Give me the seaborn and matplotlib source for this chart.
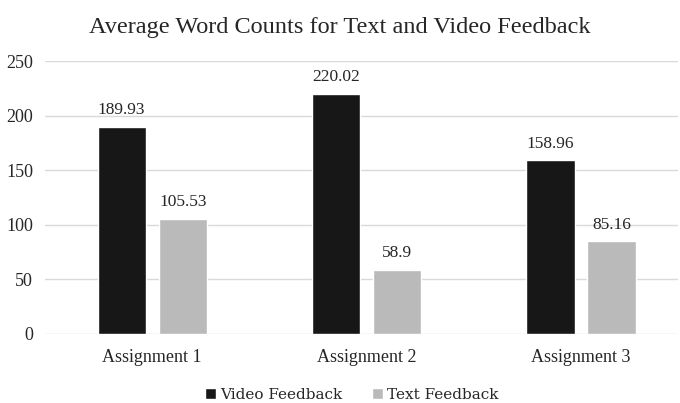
import matplotlib
matplotlib.use("Agg")
import matplotlib.pyplot as plt
import seaborn as sns
import pandas as pd

categories = ["Assignment 1", "Assignment 2", "Assignment 3"]
series_names = ["Video Feedback", "Text Feedback"]
video_values = [189.93, 220.02, 158.96]
text_values = [105.53, 58.9, 85.16]
value_labels_video = ["189.93", "220.02", "158.96"]
value_labels_text = ["105.53", "58.9", "85.16"]
title = "Average Word Counts for Text and Video Feedback"

df = pd.DataFrame({
    "Assignment": categories * 2,
    "Series": [series_names[0]] * 3 + [series_names[1]] * 3,
    "Words": video_values + text_values,
})

sns.set_style("white")
plt.rcParams["font.family"] = ["Liberation Serif", "DejaVu Serif"]

fig = plt.figure(figsize=(6.8, 4.03), dpi=100)
ax = fig.add_axes([45 / 680, 1 - 334 / 403, (678 - 45) / 680, (334 - 61) / 403])

palette = {series_names[0]: "#171717", series_names[1]: "#bababa"}
sns.barplot(data=df, x="Assignment", y="Words", hue="Series", palette=palette,
            width=0.57, gap=0.21, saturation=1, ax=ax, legend=True, zorder=3)

for cont, labs in zip(ax.containers, [value_labels_video, value_labels_text]):
    ax.bar_label(cont, labels=labs, padding=6, fontsize=12.5, color="#262626")

ax.set_ylim(0, 250)
ax.set_yticks([0, 50, 100, 150, 200, 250])
ax.set_xlim(-0.5, 2.452)
ax.yaxis.grid(True, color="#d9d9d9", linewidth=1, zorder=0)
ax.set_axisbelow(True)
for s in ax.spines.values():
    s.set_visible(False)
ax.tick_params(axis="both", length=0, labelsize=13, colors="#262626")
ax.tick_params(axis="y", pad=8.5)
ax.tick_params(axis="x", pad=10.5)
ax.set_xlabel("")
ax.set_ylabel("")

fig.suptitle(title, x=0.5, y=1 - 27 / 403, va="center", fontsize=17.5, color="#262626")

handles, labels = ax.get_legend_handles_labels()
ax.legend(handles, labels, loc="center", bbox_to_anchor=(0.5 + 12 / 680, 1 - 395 / 403),
          bbox_transform=fig.transFigure, ncol=2, frameon=False,
          prop={"family": "DejaVu Serif", "size": 11},
          handlelength=0.72, handleheight=0.72, handletextpad=0.3, columnspacing=1.9)

fig.savefig("out.png", dpi=100)
